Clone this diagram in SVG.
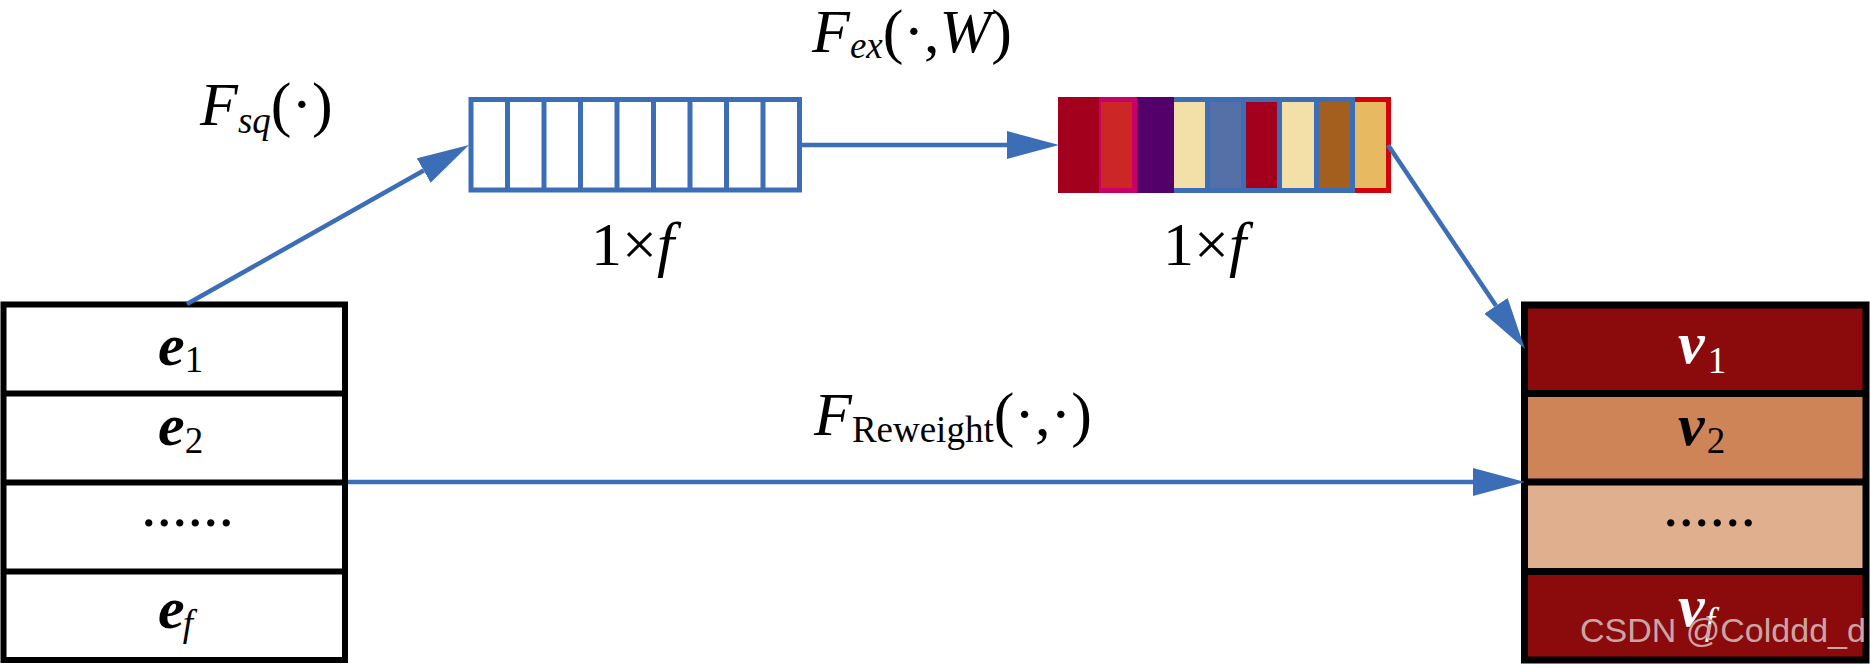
<svg xmlns="http://www.w3.org/2000/svg" width="1870" height="664" viewBox="0 0 1870 664">
<style>
text{font-family:"Liberation Serif","Tinos","Times New Roman","DejaVu Serif",serif}
.m{font-size:62px;fill:#000}
.it{font-style:italic}
.bi{font-style:italic;font-weight:bold;font-size:60px}
.sub{font-size:37px;font-style:normal;font-weight:normal}
.subi{font-size:37px;font-style:italic;font-weight:normal}
.conn{stroke:#3C6EB8;stroke-width:4.5;fill:none}
.bcell{fill:#fff;stroke:#3C6EB8;stroke-width:5}
.grid{fill:none;stroke:#000;stroke-width:6}
text.wm{font-family:"Liberation Sans",Arial,sans-serif;font-size:34px;fill:#CBA5A5}
</style>
<defs>
<marker id="ah" markerUnits="userSpaceOnUse" markerWidth="52" markerHeight="28" refX="0" refY="14" orient="auto" viewBox="0 0 52 28">
<path d="M0,0 L52,14 L0,28 z" fill="#3C6EB8"/>
</marker>
</defs>
<rect width="1870" height="664" fill="#fff"/>

<!-- Left box -->
<g id="left-box">
<rect x="3.5" y="304.5" width="341.5" height="355.5" class="grid" fill="#fff"/>
<line x1="3.5" y1="393.5" x2="345" y2="393.5" class="grid"/>
<line x1="3.5" y1="482.5" x2="345" y2="482.5" class="grid"/>
<line x1="3.5" y1="571.5" x2="345" y2="571.5" class="grid"/>
<text class="m bi" x="158" y="365">e<tspan class="sub" dy="7">1</tspan></text>
<text class="m bi" x="158" y="445">e<tspan class="sub" dy="8">2</tspan></text>
<text class="m" x="141" y="526" font-size="66">......</text>
<text class="m bi" x="158" y="628">e<tspan class="subi" dy="8" dx="-2">f</tspan></text>
</g>

<!-- Squeeze vector -->
<g id="squeeze-vector">
<rect x="471" y="99.5" width="328.5" height="90.5" class="bcell"/>
<path d="M507.5,99.5V190M544,99.5V190M580.5,99.5V190M617,99.5V190M653.5,99.5V190M690,99.5V190M726.5,99.5V190M763,99.5V190" stroke="#3C6EB8" stroke-width="5" fill="none"/>
<text class="m" x="591" y="265">1×<tspan class="it">f</tspan></text>
</g>

<!-- Excitation vector -->
<g id="excitation-vector">
<rect x="1058" y="97" width="41" height="96" fill="#A3001E"/>
<rect x="1099" y="97" width="38" height="96" fill="#C8006A"/>
<rect x="1101" y="102" width="31" height="86" fill="#CC2626"/>
<rect x="1137" y="97" width="37" height="96" fill="#53006A"/>
<rect x="1174" y="97" width="181" height="96" fill="#3C6EB8"/>
<rect x="1174" y="102" width="31" height="86" fill="#F2E0A8"/>
<rect x="1210" y="102" width="31" height="86" fill="#5470A6"/>
<rect x="1246" y="102" width="31" height="86" fill="#A3001E"/>
<rect x="1282" y="102" width="32" height="86" fill="#F2E0A8"/>
<rect x="1319" y="102" width="31" height="86" fill="#A45F1E"/>
<rect x="1355" y="97" width="36" height="96" fill="#D4000A"/>
<rect x="1355" y="102" width="31" height="86" fill="#E7B960"/>
<text class="m" x="1163" y="265">1×<tspan class="it">f</tspan></text>
</g>

<!-- Right box -->
<g id="right-box">
<rect x="1524.5" y="305" width="341.5" height="88.5" fill="#8B0A0C"/>
<rect x="1524.5" y="393.5" width="341.5" height="88.5" fill="#CF8458"/>
<rect x="1524.5" y="482" width="341.5" height="89.5" fill="#DFAF8E"/>
<rect x="1524.5" y="571.5" width="341.5" height="88.5" fill="#8B0A0C"/>
<rect x="1524.5" y="305" width="341.5" height="355" fill="none" stroke="#000" stroke-width="7"/>
<line x1="1524.5" y1="393.5" x2="1866" y2="393.5" stroke="#000" stroke-width="7"/>
<line x1="1524.5" y1="482" x2="1866" y2="482" stroke="#000" stroke-width="7"/>
<line x1="1524.5" y1="571.5" x2="1866" y2="571.5" stroke="#000" stroke-width="7"/>
<text class="m bi" x="1678" y="363" style="fill:#fff">v<tspan class="sub" dx="3" dy="10">1</tspan></text>
<text class="m bi" x="1678" y="445">v<tspan class="sub" dx="2" dy="8">2</tspan></text>
<text class="m" x="1663" y="526" font-size="66">......</text>
<text class="m bi" x="1678" y="626" style="fill:#fff">v<tspan class="subi" dy="8">f</tspan></text>
</g>

<!-- Connectors -->
<g id="connectors">
<line x1="187" y1="304" x2="423.7" y2="170.5" class="conn" marker-end="url(#ah)"/>
<line x1="802" y1="145" x2="1007" y2="145" class="conn" marker-end="url(#ah)"/>
<line x1="1388" y1="145" x2="1496" y2="305.8" class="conn" marker-end="url(#ah)"/>
<line x1="348" y1="482" x2="1473" y2="482" class="conn" marker-end="url(#ah)"/>
</g>

<!-- Labels -->
<g id="labels">
<text class="m it" x="200" y="125">F<tspan class="subi" dy="8">sq</tspan><tspan font-style="normal" dy="-8">(·)</tspan></text>
<text class="m it" x="812" y="52">F<tspan class="subi" dy="6">ex</tspan><tspan font-style="normal" dy="-6">(·,</tspan><tspan>W</tspan><tspan font-style="normal">)</tspan></text>
<text class="m it" x="814" y="435">F<tspan class="sub" dy="7">Reweight</tspan><tspan font-style="normal" dy="-7">(·,·)</tspan></text>
</g>

<text class="wm" x="1580" y="642">CSDN @Colddd_d</text>
</svg>
